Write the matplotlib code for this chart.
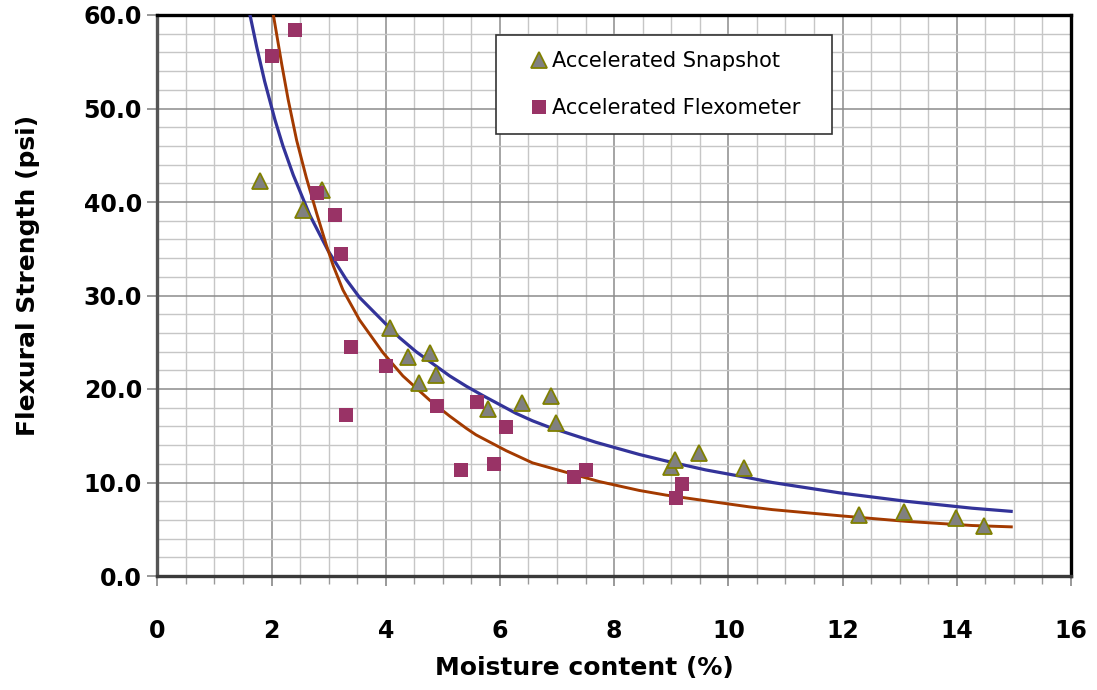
import matplotlib
matplotlib.use("Agg")
import matplotlib.pyplot as plt
from matplotlib.ticker import MultipleLocator, FormatStrFormatter
from matplotlib.legend_handler import HandlerLine2D

# ---- data ----
snap_x = [1.80, 2.56, 2.89, 4.08, 4.39, 4.59, 4.78, 4.88, 5.79, 6.38, 6.89, 6.98,
          8.99, 9.07, 9.49, 10.27, 12.28, 13.08, 13.99, 14.48]
snap_y = [42.2, 39.1, 41.3, 26.5, 23.4, 20.6, 23.9, 21.5, 17.9, 18.5, 19.2, 16.4,
          11.7, 12.4, 13.2, 11.6, 6.5, 6.8, 6.2, 5.3]

flex_x = [2.01, 2.41, 2.80, 3.11, 3.21, 3.40, 3.30, 4.01, 4.89, 5.31, 5.59, 5.90,
          6.11, 7.30, 7.51, 9.08, 9.19]
flex_y = [55.6, 58.4, 41.0, 38.6, 34.4, 24.5, 17.2, 22.5, 18.2, 11.3, 18.6, 12.0,
          15.9, 10.6, 11.3, 8.3, 9.8]

# trend curves
snap_fit_x = [1.62, 1.74, 1.88, 2.06, 2.20, 2.38, 2.67, 2.99, 3.31, 3.54, 4.01, 4.24,
              4.53, 5.12, 5.41, 5.70, 6.28, 6.57, 6.87, 7.68, 8.44, 8.91, 9.60, 10.36,
              10.77, 11.94, 13.10, 14.27, 14.98]
snap_fit_y = [60.1, 56.6, 52.9, 48.8, 46.0, 42.9, 38.6, 34.8, 31.7, 29.8, 26.9, 25.5,
              24.0, 21.4, 20.3, 19.3, 17.4, 16.6, 15.9, 14.3, 13.0, 12.3, 11.35, 10.5,
              10.0, 8.9, 8.0, 7.25, 6.9]

flex_fit_x = [2.03, 2.18, 2.29, 2.44, 2.61, 2.79, 2.96, 3.08, 3.25, 3.54, 3.95, 4.30,
              4.77, 5.12, 5.41, 5.58, 6.11, 6.57, 7.74, 8.44, 8.91, 9.60, 10.36, 10.77,
              11.94, 13.10, 14.27, 14.98]
flex_fit_y = [60.1, 54.7, 51.0, 46.6, 42.6, 38.8, 35.4, 33.2, 30.6, 27.4, 23.9, 21.4,
              18.8, 17.1, 15.8, 15.1, 13.4, 12.1, 10.1, 9.15, 8.65, 8.05, 7.4, 7.1,
              6.45, 5.85, 5.4, 5.25]

x_label = "Moisture content (%)"
y_label = "Flexural Strength (psi)"
snap_name = "Accelerated Snapshot"
flex_name = "Accelerated Flexometer"

W, H = 1097, 690
fig = plt.figure(figsize=(W / 100, H / 100), dpi=100)
L, R, T, B = 157.3, 1071.0, 15.0, 576.0
ax = fig.add_axes([L / W, 1 - B / H, (R - L) / W, (B - T) / H])

ax.set_xlim(0, 16)
ax.set_ylim(0, 60)
ax.xaxis.set_major_locator(MultipleLocator(2))
ax.xaxis.set_minor_locator(MultipleLocator(0.5))
ax.yaxis.set_major_locator(MultipleLocator(10))
ax.yaxis.set_minor_locator(MultipleLocator(2))
ax.yaxis.set_major_formatter(FormatStrFormatter("%.1f"))

ax.set_axisbelow(True)
ax.grid(which="minor", color="#c6c6c6", lw=1.0)
ax.grid(which="major", color="#8c8c8c", lw=1.1)

# curves
ax.plot(snap_fit_x, snap_fit_y, color="#333399", lw=2.3, zorder=3,
        solid_capstyle="butt", solid_joinstyle="round")
ax.plot(flex_fit_x, flex_fit_y, color="#a33a00", lw=2.1, zorder=3,
        solid_capstyle="butt", solid_joinstyle="round")

# points
h1, = ax.plot(snap_x, snap_y, linestyle="none", marker="^", markersize=12,
              markerfacecolor="#808080", markeredgecolor="#808000",
              markeredgewidth=1.3, zorder=4, label=snap_name, clip_on=False)
h2, = ax.plot(flex_x, flex_y, linestyle="none", marker="s", markersize=10,
              markerfacecolor="#993366", markeredgewidth=0, zorder=5,
              label=flex_name, clip_on=False)

# spines
ax.spines["top"].set_color("black")
ax.spines["top"].set_linewidth(2.4)
ax.spines["right"].set_color("black")
ax.spines["right"].set_linewidth(2.4)
ax.spines["left"].set_color("#555555")
ax.spines["left"].set_linewidth(2.4)
ax.spines["bottom"].set_color("#3a3a3a")
ax.spines["bottom"].set_linewidth(2.4)

# ticks
ax.tick_params(axis="x", which="major", direction="out", length=7, width=1.2,
               color="#888888", pad=24, labelsize=17)
ax.tick_params(axis="x", which="minor", direction="out", length=5.5, width=1.0,
               color="#999999")
ax.tick_params(axis="y", which="major", direction="out", length=7, width=1.2,
               color="#888888", pad=4, labelsize=17)
ax.tick_params(axis="y", which="minor", length=0)
for lab in ax.get_xticklabels() + ax.get_yticklabels():
    lab.set_fontweight("bold")

ax.set_xlabel(x_label, fontsize=18, fontweight="bold", va="center")
ax.xaxis.set_label_coords((584.5 - L) / (R - L), (B - 668) / (B - T))
ax.set_ylabel(y_label, fontsize=18, fontweight="bold", va="center")
ax.yaxis.set_label_coords((28 - L) / (R - L), (B - 275) / (B - T))

fs = 15
leg = ax.legend(handles=[h1, h2], loc="upper left",
                bbox_to_anchor=(496 / W, 1 - 127 / H, 336 / W, 92 / H),
                bbox_transform=fig.transFigure, mode="expand", borderaxespad=0,
                fontsize=fs, frameon=True, fancybox=False, shadow=False,
                borderpad=0.78, labelspacing=1.28, handlelength=1.6,
                handletextpad=0.3, numpoints=1,
                handler_map={h1: HandlerLine2D(xpad=0.93),
                             h2: HandlerLine2D(xpad=0.93)})
fr = leg.get_frame()
fr.set_edgecolor("#333333")
fr.set_linewidth(1.2)
fr.set_facecolor("white")
fr.set_alpha(1)

fig.savefig("out.png", dpi=100)
